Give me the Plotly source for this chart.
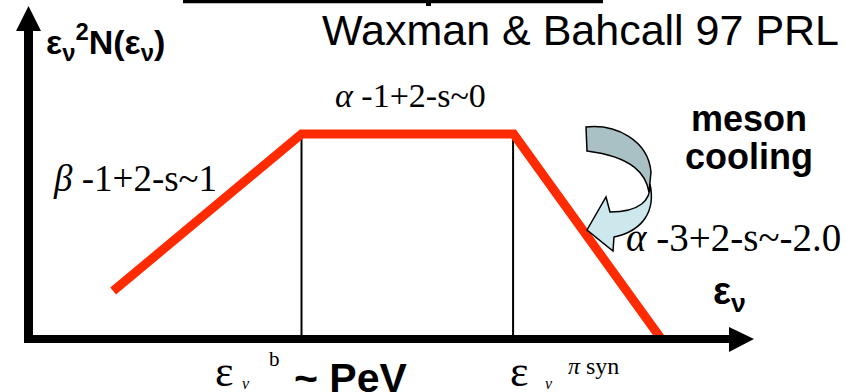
import plotly.graph_objects as go

W, H = 846, 392

# Spectrum shape in normalised units (first break and plateau at 1)
energy = [0.31, 1.0, 1.777, 2.315]
flux = [0.234, 1.0, 1.0, 0.005]
break_energies = [1.0, 1.775]

# Pixel frame of the drawn axes: corner position and pixels per unit
X0, Y0 = 28.5, 339.0
SX, SY = 273.0, 205.0

SANS = "Liberation Sans, Arial, sans-serif"
SERIF = "Liberation Serif, Times New Roman, serif"


def px(x):
    return x / W


def py(y):
    return 1 - y / H


fig = go.Figure()

# thin guide lines at the break energies
for b in break_energies:
    fig.add_trace(go.Scatter(x=[b, b], y=[0, 1], mode="lines",
                             line=dict(color="black", width=2),
                             hoverinfo="skip", showlegend=False))

# broken power-law spectrum
fig.add_trace(go.Scatter(x=energy, y=flux, mode="lines",
                         line=dict(color="#ff2a00", width=9),
                         hoverinfo="skip", showlegend=False))

shapes = []


def rect(x0, y0, x1, y1, color="black"):
    shapes.append(dict(type="rect", xref="paper", yref="paper",
                       x0=px(x0), x1=px(x1), y0=py(y0), y1=py(y1),
                       fillcolor=color, line=dict(width=0), layer="above"))


def poly(points, fill, line_color="black", line_width=0):
    path = "M " + " L ".join(f"{px(x):.5f},{py(y):.5f}" for x, y in points) + " Z"
    shapes.append(dict(type="path", xref="paper", yref="paper", path=path,
                       fillcolor=fill, line=dict(color=line_color, width=line_width),
                       layer="above"))


def bezier_path(cmds, fill, line_width=1.5):
    parts = []
    for c in cmds:
        op, pts = c[0], c[1:]
        parts.append(op + " " + " ".join(f"{px(x):.5f},{py(y):.5f}" for x, y in pts))
    path = " ".join(parts) + " Z"
    shapes.append(dict(type="path", xref="paper", yref="paper", path=path,
                       fillcolor=fill, line=dict(color="black", width=line_width),
                       layer="above"))


# axes with arrowheads
rect(24, 30, 33, 343)
poly([(16, 31), (41, 31), (28.5, 6)], "black")
rect(24, 335, 732, 343)
poly([(729, 327), (729, 352), (754, 339)], "black")

# rule along the top edge
rect(183, 0, 603, 3.3)
rect(426, 0, 431, 6)

# curved "cooling" arrow: back band
bezier_path([
    ("M", (586, 127)),
    ("C", (616, 124), (648, 140), (651, 172)),
    ("L", (649, 192)),
    ("C", (646, 175), (634, 157), (587, 151)),
], "#a9c0c4")
# front band with arrowhead
bezier_path([
    ("M", (650, 184)),
    ("C", (651, 200), (640, 212), (610, 212)),
    ("L", (606, 197)),
    ("L", (587, 230)),
    ("L", (613, 251)),
    ("L", (614, 237)),
    ("C", (642, 231), (656, 212), (650, 184)),
], "#cde8ed")

fig.update_layout(shapes=shapes)

annotations = []


def text(x, y, s, size, family=SANS, anchor="left", color="black"):
    # y is the baseline in pixels
    annotations.append(dict(x=px(x), y=py(y - 0.30 * size), xref="paper", yref="paper",
                            text=s, showarrow=False, xanchor=anchor, yanchor="middle",
                            font=dict(family=family, size=size, color=color)))


text(320, 43, "Waxman & Bahcall 97 PRL", 43)
text(44, 52, "<b>ε<sub>ν</sub><sup>2</sup>N(ε<sub>ν</sub>)</b>", 34)
text(333, 106, "<i>α</i> -1+2-s~0", 34, SERIF)
text(51, 190, "<i>β</i> -1+2-s~1", 37, SERIF)
text(749, 129, "<b>meson</b>", 36, anchor="center")
text(749, 167, "<b>cooling</b>", 36, anchor="center")
text(624, 249, "<i>α</i> -3+2-s~-2.0", 39, SERIF)
text(711, 305, "<b>ε<sub>ν</sub></b>", 38)

# energy markers under the axis
text(213, 385, "ε", 44, SERIF)
text(240, 388, "<i>ν</i>", 16, SERIF)
text(267, 365, "b", 21, SERIF)
text(292, 390, "<b>~ PeV</b>", 41)
text(508, 385, "ε", 44, SERIF)
text(543, 388, "<i>ν</i>", 16, SERIF)
text(566, 373, "<i>π</i> syn", 24, SERIF)

fig.update_layout(
    annotations=annotations,
    width=W, height=H, autosize=False,
    margin=dict(l=0, r=0, t=0, b=0, pad=0),
    paper_bgcolor="white", plot_bgcolor="white",
    xaxis=dict(range=[(0 - X0) / SX, (W - X0) / SX], visible=False, fixedrange=True),
    yaxis=dict(range=[(Y0 - H) / SY, Y0 / SY], visible=False, fixedrange=True),
    showlegend=False,
)

fig.write_html("out.html")
